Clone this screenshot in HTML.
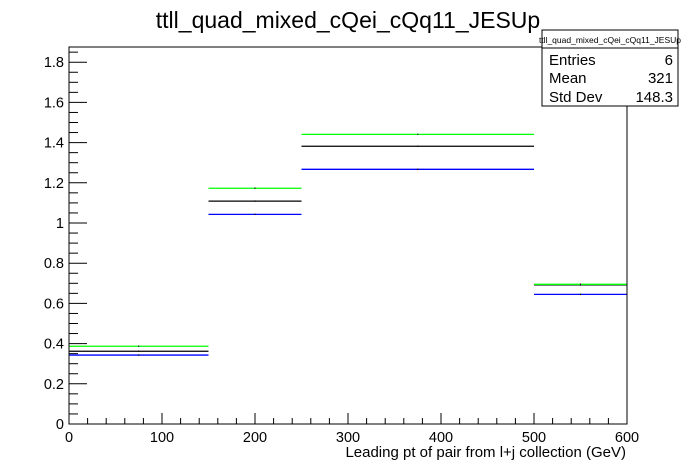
<!DOCTYPE html>
<html><head><meta charset="utf-8">
<style>
body{margin:0;background:#fff;}
svg{display:block;font-family:"Liberation Sans",Arial,sans-serif;}
</style></head>
<body>
<svg id="chart" width="696" height="472" viewBox="0 0 696 472" xmlns="http://www.w3.org/2000/svg">
<rect width="696" height="472" fill="#fff"/>
<text x="348" y="28" font-size="23" text-anchor="middle">ttll_quad_mixed_cQei_cQq11_JESUp</text>
<g id="axes"></g>
<g id="series"></g>
<rect x="69" y="47" width="558" height="377" fill="none" stroke="#000" stroke-width="1"/>
<g>
<rect x="542" y="30" width="136" height="76" fill="#fff" stroke="#000"/>
<line x1="542" y1="48" x2="678" y2="48" stroke="#000"/>
<text x="610" y="43" font-size="8.5" text-anchor="middle">ttll_quad_mixed_cQei_cQq11_JESUp</text>
<text x="549" y="65" font-size="15">Entries</text><text x="673" y="65" font-size="15" text-anchor="end">6</text>
<text x="549" y="83" font-size="15">Mean</text><text x="673" y="83" font-size="15" text-anchor="end">321</text>
<text x="549" y="102" font-size="15">Std Dev</text><text x="673" y="102" font-size="15" text-anchor="end">148.3</text>
</g>
<text x="626" y="457" font-size="15" text-anchor="end">Leading pt of pair from l+j collection (GeV)</text>
</svg>
<script>
const binEdges=[0,150,250,500,600];
const greenVals=[0.387,1.173,1.441,0.695];
const blackVals=[0.362,1.109,1.382,0.692];
const blueVals=[0.343,1.043,1.267,0.645];
const xTicks=[0,100,200,300,400,500,600];
const yTicks=[0,0.2,0.4,0.6,0.8,1,1.2,1.4,1.6,1.8];
const NS="http://www.w3.org/2000/svg";
const X=v=>69+v*(558/600);
const Y=v=>424-v*201;
function mk(t,a,p){const e=document.createElementNS(NS,t);for(const k in a)e.setAttribute(k,a[k]);p.appendChild(e);return e;}
const axes=document.getElementById('axes');
for(let i=0;i<=30;i++){const v=i*20;const major=v%100===0;
 const l=mk('line',{x1:X(v),x2:X(v),y1:424,y2:major?413:418,stroke:'#000'},axes);
 
 }
xTicks.forEach(v=>{const t=mk('text',{x:X(v),y:442,'font-size':14.5,'text-anchor':'middle'},axes);t.textContent=v;
 
 });
for(let i=0;i<=37;i++){const v=i*0.05;if(Y(v)<47)break;const major=i%4===0;
 const l=mk('line',{x1:69,x2:major?87:78,y1:Y(v),y2:Y(v),stroke:'#000'},axes);
 
 }
yTicks.forEach(v=>{const t=mk('text',{x:64,y:Y(v)+5,'font-size':14.5,'text-anchor':'end'},axes);t.textContent=String(+v.toFixed(1));
 
 });
const ser=document.getElementById('series');
[[blueVals,'#0000ff','blue'],[blackVals,'#000','black'],[greenVals,'#00ff00','green']].forEach(([vals,c,n])=>{
 vals.forEach((v,i)=>{const l=mk('line',{x1:X(binEdges[i]),x2:X(binEdges[i+1]),y1:Y(v),y2:Y(v),stroke:c,'stroke-width':1.3},ser);
  
  
  const m=(X(binEdges[i])+X(binEdges[i+1]))/2;
  mk('rect',{x:m-0.5,y:Y(v)-0.7,width:1,height:1.4,fill:'#000'},ser);});
});
</script>
</body></html>
